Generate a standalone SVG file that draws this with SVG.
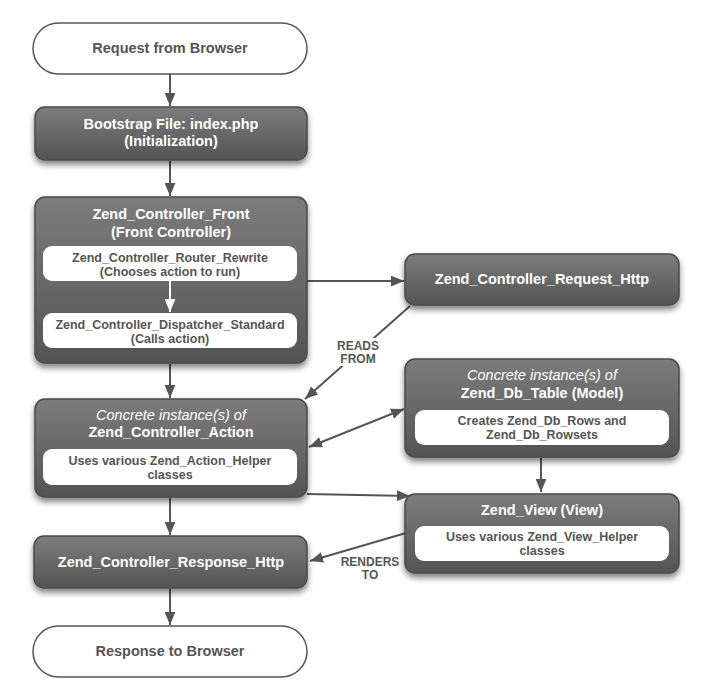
<svg xmlns="http://www.w3.org/2000/svg" width="717" height="700" viewBox="0 0 717 700">
<defs>
<linearGradient id="g" x1="0" y1="0" x2="0" y2="1">
<stop offset="0" stop-color="#7c7c7c"/>
<stop offset="1" stop-color="#545454"/>
</linearGradient>
<filter id="sh" x="-10%" y="-10%" width="120%" height="140%">
<feGaussianBlur in="SourceAlpha" stdDeviation="3"/>
<feOffset dx="0" dy="4" result="b"/>
<feComponentTransfer><feFuncA type="linear" slope="0.5"/></feComponentTransfer>
<feMerge><feMergeNode/><feMergeNode in="SourceGraphic"/></feMerge>
</filter>
<marker id="ah" viewBox="0 0 12 10" refX="12" refY="5" markerWidth="13" markerHeight="11" markerUnits="userSpaceOnUse" orient="auto-start-reverse">
<path d="M0,0 L12,5 L0,10 Z" fill="#555"/>
</marker>
<marker id="ahw" viewBox="0 0 12 10" refX="12" refY="5" markerWidth="13" markerHeight="11" markerUnits="userSpaceOnUse" orient="auto">
<path d="M0,0 L12,5 L0,10 Z" fill="#fff"/>
</marker>
</defs>
<style>
.dark{fill:url(#g);stroke:#4a4a4a;stroke-width:1.5;filter:url(#sh)}
.term{fill:#fff;stroke:#555;stroke-width:1.5}
.inner{fill:#fff;stroke:none}
.t{font-family:"Liberation Sans",Arial,sans-serif;font-weight:bold;text-anchor:middle}
.wt{fill:#fff;font-size:14.5px}
.it{fill:#fff;font-size:14.5px;font-style:italic;font-weight:normal}
.gt{fill:#555;font-size:12.5px}
.term-t{fill:#555;font-size:14.5px}
.lbl{fill:#555;font-size:12px}
.c{stroke:#555;stroke-width:2;fill:none;marker-end:url(#ah)}
</style>
<rect width="717" height="700" fill="#fff"/>

<g id="connectors">
<line class="c" x1="170" y1="74" x2="170" y2="106"/>
<line class="c" x1="170" y1="161" x2="170" y2="196"/>
<line class="c" x1="170" y1="364" x2="170" y2="398"/>
<line class="c" x1="170" y1="498" x2="170" y2="535"/>
<line class="c" x1="170" y1="589" x2="170" y2="625"/>
<line class="c" x1="307" y1="281" x2="404" y2="281"/>
<line class="c" x1="410" y1="306" x2="305" y2="399"/>
<line class="c" x1="309" y1="447" x2="404" y2="409" style="marker-start:url(#ah)"/>
<line class="c" x1="541" y1="458" x2="541" y2="492"/>
<line class="c" x1="307" y1="494" x2="410" y2="496"/>
<line class="c" x1="406" y1="533" x2="310" y2="561"/>
<rect x="334" y="338" width="48" height="28" fill="#fff"/>
<text class="t lbl" x="358" y="350">READS</text>
<text class="t lbl" x="358" y="363">FROM</text>
<text class="t lbl" x="370" y="566">RENDERS</text>
<text class="t lbl" x="370" y="579">TO</text>
</g>

<g id="request-browser">
<rect class="term" x="33" y="23" width="274" height="51" rx="25.5"/>
<text class="t term-t" x="170" y="53">Request from Browser</text>
</g>

<g id="bootstrap">
<rect class="dark" x="35" y="107" width="272" height="53" rx="10"/>
<text class="t wt" x="171" y="129">Bootstrap File: index.php</text>
<text class="t wt" x="171" y="146">(Initialization)</text>
</g>

<g id="front-controller">
<rect class="dark" x="35" y="197" width="272" height="166" rx="10"/>
<text class="t wt" x="171" y="219">Zend_Controller_Front</text>
<text class="t wt" x="171" y="237">(Front Controller)</text>
<rect class="inner" x="43" y="246" width="254" height="35" rx="9"/>
<text class="t gt" x="170" y="262">Zend_Controller_Router_Rewrite</text>
<text class="t gt" x="170" y="276">(Chooses action to run)</text>
<line x1="170" y1="281" x2="170" y2="312" stroke="#fff" stroke-width="2" marker-end="url(#ahw)"/>
<rect class="inner" x="43" y="313" width="254" height="35" rx="9"/>
<text class="t gt" x="170" y="329">Zend_Controller_Dispatcher_Standard</text>
<text class="t gt" x="170" y="343">(Calls action)</text>
</g>

<g id="request-http">
<rect class="dark" x="405" y="254" width="274" height="51" rx="10"/>
<text class="t wt" x="542" y="284">Zend_Controller_Request_Http</text>
</g>

<g id="controller-action">
<rect class="dark" x="35" y="399" width="272" height="98" rx="10"/>
<text class="t it" x="171" y="420">Concrete instance(s) of</text>
<text class="t wt" x="171" y="437">Zend_Controller_Action</text>
<rect class="inner" x="43" y="449" width="254" height="36" rx="9"/>
<text class="t gt" x="170" y="465">Uses various Zend_Action_Helper</text>
<text class="t gt" x="170" y="479">classes</text>
</g>

<g id="db-table">
<rect class="dark" x="405" y="359" width="274" height="98" rx="10"/>
<text class="t it" x="542" y="380">Concrete instance(s) of</text>
<text class="t wt" x="542" y="398">Zend_Db_Table (Model)</text>
<rect class="inner" x="415" y="410" width="254" height="35" rx="9"/>
<text class="t gt" x="542" y="425">Creates Zend_Db_Rows and</text>
<text class="t gt" x="542" y="439">Zend_Db_Rowsets</text>
</g>

<g id="view">
<rect class="dark" x="405" y="494" width="274" height="79" rx="10"/>
<text class="t wt" x="542" y="515">Zend_View (View)</text>
<rect class="inner" x="415" y="526" width="254" height="35" rx="9"/>
<text class="t gt" x="542" y="541">Uses various Zend_View_Helper</text>
<text class="t gt" x="542" y="555">classes</text>
</g>

<g id="response-http">
<rect class="dark" x="34" y="536" width="273" height="52" rx="10"/>
<text class="t wt" x="171" y="567">Zend_Controller_Response_Http</text>
</g>

<g id="response-browser">
<rect class="term" x="33" y="626" width="274" height="51" rx="25.5"/>
<text class="t term-t" x="170" y="656">Response to Browser</text>
</g>
</svg>
